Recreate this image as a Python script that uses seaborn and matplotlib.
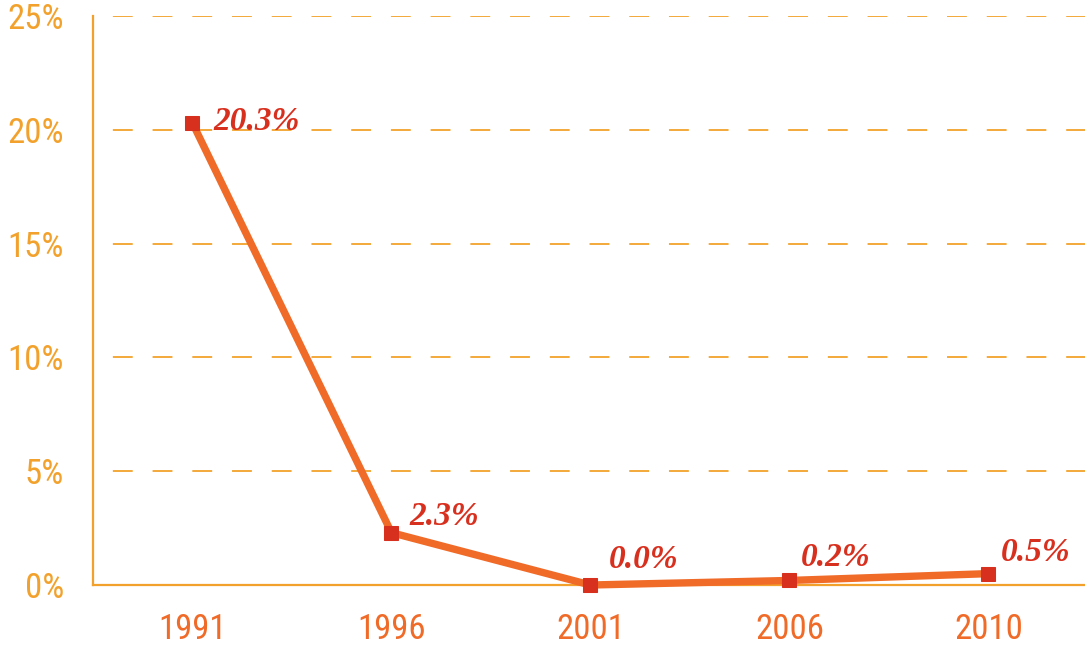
import numpy as np
import pandas as pd
import seaborn as sns
import matplotlib.pyplot as plt
from matplotlib.ticker import FixedLocator
import warnings

warnings.filterwarnings('ignore')

# chart data
years = ['1991', '1996', '2001', '2006', '2010']
shares = [20.3, 2.3, 0.0, 0.2, 0.5]
point_labels = ['20.3%', '2.3%', '0.0%', '0.2%', '0.5%']
y_ticks = [0, 5, 10, 15, 20, 25]

# label offsets in pixels from each marker
label_dx = [21, 18, 18, 11, 12]
label_dy = [-7, 8, 17, 14, 13]

gold = '#F2A22C'
orange = '#F06A28'
red = '#D8301F'
axis_font = ['Roboto Condensed', 'DejaVu Sans Condensed', 'Liberation Sans Narrow',
             'Open Sans Condensed', 'Roboto']

sns.set_style('white')

df = pd.DataFrame({'year': years, 'share': shares})

fig = plt.figure(figsize=(10.85, 6.48), dpi=100)
ax = fig.add_axes([0.0857, 0.0972, 0.917, 0.878])

# dashed horizontal guides
for v in y_ticks[1:]:
    ax.axhline(v, color=gold, lw=1.3, linestyle=(11, (11, 11)), zorder=1)

sns.lineplot(data=df, x='year', y='share', ax=ax, color=orange, linewidth=5.3,
             marker='s', markersize=9.5, markerfacecolor=red, markeredgecolor=red,
             zorder=3, sort=False, clip_on=False)

for i, (v, lab) in enumerate(zip(shares, point_labels)):
    ax.annotate(lab, xy=(i, v), xytext=(label_dx[i], label_dy[i]),
                textcoords='offset pixels', ha='left', va='baseline',
                fontsize=24, color=red, fontweight='bold', fontstyle='italic',
                family='Liberation Serif', zorder=4)

ax.set_xlim(-0.5, 4.5)
ax.set_ylim(0, 25)
ax.set_xlabel('')
ax.set_ylabel('')

ax.set_yticks(y_ticks)
ax.set_yticklabels([f'{t}%' for t in y_ticks])
ax.xaxis.set_minor_locator(FixedLocator([0.5, 1.5, 2.5, 3.5]))

ax.tick_params(axis='y', which='major', direction='out', length=7, width=1.3,
               color=gold, pad=14, labelsize=25, labelcolor=gold)
ax.tick_params(axis='x', which='major', length=0, pad=20, labelsize=25,
               labelcolor=orange)
ax.tick_params(axis='x', which='minor', direction='inout', length=21, width=1.3,
               color=gold)

for lab in ax.get_yticklabels() + ax.get_xticklabels():
    lab.set_family(axis_font)

for side in ['top', 'right']:
    ax.spines[side].set_visible(False)
for side in ['left', 'bottom']:
    ax.spines[side].set_color(gold)
    ax.spines[side].set_linewidth(1.6)

fig.savefig('out.png', dpi=100)
plt.close(fig)
